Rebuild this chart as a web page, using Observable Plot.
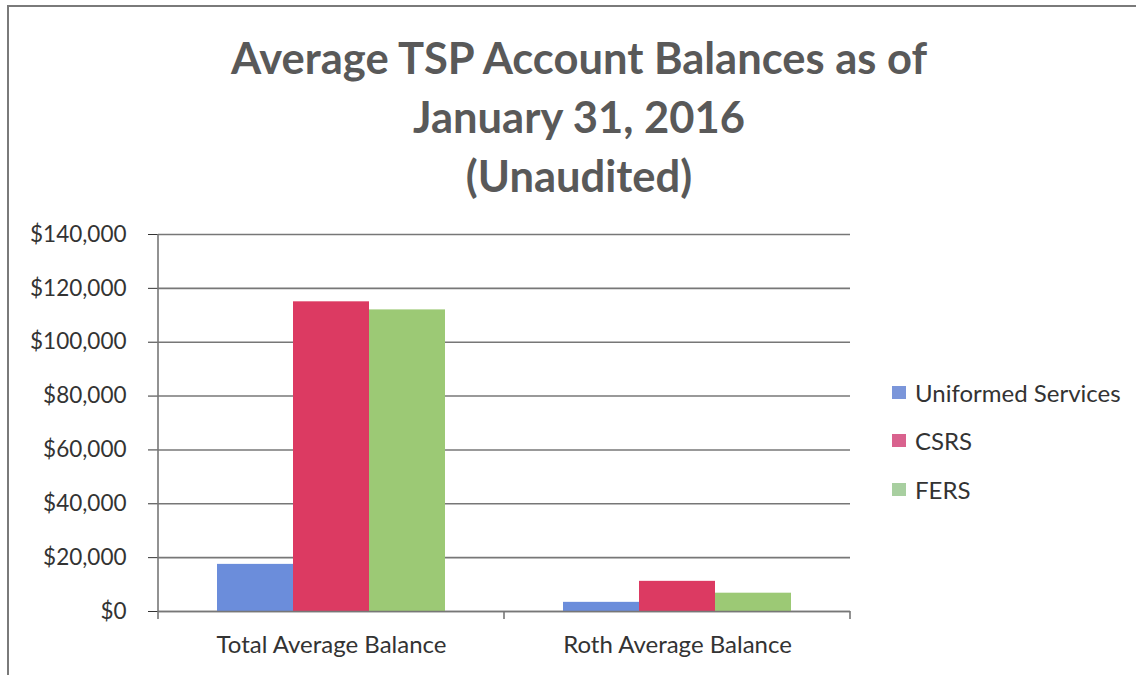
<!DOCTYPE html>
<html>
<head>
<meta charset="utf-8">
<script src="https://cdn.jsdelivr.net/npm/d3@7"></script>
<script src="https://cdn.jsdelivr.net/npm/@observablehq/plot@0.6"></script>
<style>
  html, body { margin: 0; padding: 0; background: #fff; }
  #wrap { position: relative; width: 1136px; height: 675px; overflow: hidden; font-family: Lato, "Open Sans", sans-serif; }
  #border { position: absolute; left: 7px; top: 5px; width: 1140px; height: 680px; border-top: 2px solid #7a7a7a; border-left: 2px solid #7a7a7a; box-sizing: border-box; pointer-events: none; }
  #title { height: 210px; box-sizing: border-box; padding-top: 28px; padding-left: 22px; text-align: center; font-weight: 700; font-size: 43.5px; line-height: 59px; color: #595959; }
  #legend { position: absolute; left: 892px; top: 368px; font-size: 24px; color: #333; }
  .item { display: flex; align-items: center; height: 48.5px; }
  .sw { width: 14px; height: 13px; margin-right: 9px; }
  svg { display: block; }
</style>
</head>
<body>
<div id="wrap">
  <div id="title">Average TSP Account Balances as of<br>January 31, 2016<br>(Unaudited)</div>
  <div id="chart"></div>
  <div id="legend"></div>
  <div id="border"></div>
</div>
<script>
const categories = ["Total Average Balance", "Roth Average Balance"];
const seriesNames = ["Uniformed Services", "CSRS", "FERS"];
const uniformedServices = [17500, 3400];
const csrs = [115000, 11200];
const fers = [112000, 6800];
const yTicks = [0, 20000, 40000, 60000, 80000, 100000, 120000, 140000];
const colors = ["#6b8ddb", "#dc3a62", "#9cc975"];
const legendColors = ["#7b96da", "#d9628e", "#a8cfa0"];

const seriesValues = [uniformedServices, csrs, fers];
const data = categories.flatMap((cat, i) =>
  seriesNames.map((s, j) => ({ cat, series: s, value: seriesValues[j][i] }))
);

const W = 1136, H = 465, mT = 24, mB = 64, mL = 158, mR = 286;

const chart = Plot.plot({
  width: W, height: H,
  marginTop: mT, marginBottom: mB, marginLeft: mL, marginRight: mR,
  style: { fontFamily: "Lato, 'Open Sans', sans-serif", fontSize: "22.5px", color: "#333", background: "transparent" },
  fx: { domain: categories, padding: 0, label: null, axis: "bottom", tickSize: 0, tickPadding: 24 },
  x: { domain: seriesNames, paddingInner: 0, paddingOuter: 0.75, axis: null },
  y: { domain: [0, 140000], ticks: yTicks, tickFormat: d => "$" + d3.format(",")(d), label: null, tickSize: 10, tickPadding: 22 },
  color: { domain: seriesNames, range: colors },
  marks: [
    Plot.ruleY(yTicks, { stroke: "#777", strokeWidth: 1.6 }),
    Plot.barY(data, { fx: "cat", x: "series", y: "value", fill: "series" }),
    Plot.ruleY([0], { stroke: "#777", strokeWidth: 1.6 })
  ]
});

// Excel-style axis line and category boundary ticks drawn from Plot's own scales
const svg = d3.select(chart.tagName === "svg" ? chart : chart.querySelector("svg"));
svg.selectAll("[aria-label='fx-axis tick label'] text, [aria-label='fx-axis'] text").style("font-size", "24px");
const fxD = chart.scale("fx");
const yD = chart.scale("y");
const fxS = d3.scaleBand().domain(fxD.domain).range(fxD.range)
  .paddingInner(fxD.paddingInner ?? fxD.padding ?? 0).paddingOuter(fxD.paddingOuter ?? fxD.padding ?? 0).align(fxD.align ?? 0.5);
const yS = d3.scaleLinear().domain(yD.domain).range(yD.range);
const y0 = yS(0), yTop = yS(140000);
const bounds = [];
categories.forEach(c => { bounds.push(fxS(c)); });
bounds.push(fxS(categories[categories.length - 1]) + fxS.bandwidth());
const g = svg.append("g").attr("stroke", "#777").attr("stroke-width", 1.6);
g.append("line").attr("x1", bounds[0]).attr("x2", bounds[0]).attr("y1", yTop).attr("y2", y0 + 8);
bounds.slice(1).forEach(b => {
  g.append("line").attr("x1", b).attr("x2", b).attr("y1", y0).attr("y2", y0 + 8);
});

document.getElementById("chart").appendChild(chart);

const legend = document.getElementById("legend");
seriesNames.forEach((s, i) => {
  const item = document.createElement("div");
  item.className = "item";
  const sw = document.createElement("span");
  sw.className = "sw";
  sw.style.background = legendColors[i];
  const t = document.createElement("span");
  t.textContent = s;
  item.appendChild(sw); item.appendChild(t);
  legend.appendChild(item);
});
</script>
</body>
</html>
